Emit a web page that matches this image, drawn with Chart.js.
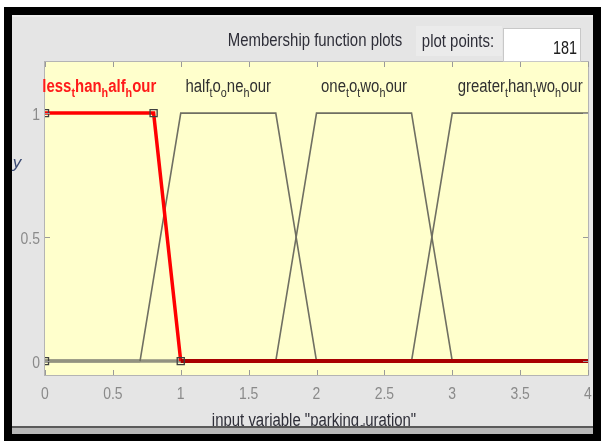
<!DOCTYPE html>
<html>
<head>
<meta charset="utf-8">
<script src="https://cdn.jsdelivr.net/npm/chart.js@4.4.1/dist/chart.umd.min.js"></script>
<style>
  html, body { margin: 0; padding: 0; background: #ffffff; }
  canvas { display: block; }
</style>
</head>
<body>
<canvas id="mfPlot" width="601" height="441"></canvas>
<script>
// Axis ticks
const xTickValues = [0, 0.5, 1, 1.5, 2, 2.5, 3, 3.5, 4];
const xTickLabels = ['0', '0.5', '1', '1.5', '2', '2.5', '3', '3.5', '4'];
const yTickValues = [0, 0.5, 1];
const yTickLabels = ['0', '0.5', '1'];

// Membership functions of the input "parking_duration" (hours)
const mfNames = ['less_than_half_hour', 'half_to_one_hour', 'one_to_two_hour', 'greater_than_two_hour'];
const lessX = [0, 0.8, 1, 4];
const lessY = [1, 1, 0, 0];
const halfX = [0, 0.7, 1, 1.7, 2, 4];
const halfY = [0, 0, 1, 1, 0, 0];
const oneX = [0, 1.7, 2, 2.7, 3, 4];
const oneY = [0, 0, 1, 1, 0, 0];
const greaterX = [0, 2.7, 3, 4];
const greaterY = [0, 0, 1, 1];

// Parameter handles of the selected function
const handleX = [0, 0, 0.8, 1];
const handleY = [0, 1, 1, 0];

const plotPoints = 181;
const inputName = 'input variable "parking_duration"';
const labelLevel = 1.087;

const FONT = '"Liberation Sans", Arial, Helvetica, sans-serif';
const pts = (xs, ys) => xs.map((x, i) => ({ x: x, y: ys[i] }));
const mfX = [lessX, halfX, oneX, greaterX];
const mfY = [lessY, halfY, oneY, greaterY];

// centre of the plateau (where membership is 1)
function plateauCentre(xs, ys) {
  const top = xs.filter((x, i) => ys[i] === 1);
  return (Math.min(...top) + Math.max(...top)) / 2;
}

// Draws text where "_c" puts the character c as a subscript
function drawTex(ctx, str, cx, by, size, weight, color, sx, align) {
  const parts = [];
  for (let i = 0; i < str.length; i++) {
    if (str[i] === '_' && i + 1 < str.length) { parts.push({ t: str[i + 1], sub: true }); i++; }
    else {
      const last = parts[parts.length - 1];
      if (last && !last.sub) last.t += str[i]; else parts.push({ t: str[i], sub: false });
    }
  }
  const fontFor = sub => `${weight} ${sub ? Math.round(size * 0.72) : size}px ${FONT}`;
  let total = 0;
  parts.forEach(p => { ctx.font = fontFor(p.sub); p.w = ctx.measureText(p.t).width; total += p.w; });
  ctx.save();
  ctx.translate(cx, by);
  ctx.scale(sx, 1);
  let x = align === 'right' ? -total : (align === 'left' ? 0 : -total / 2);
  ctx.fillStyle = color;
  ctx.textAlign = 'left';
  ctx.textBaseline = 'alphabetic';
  parts.forEach(p => {
    ctx.font = fontFor(p.sub);
    ctx.fillText(p.t, x, p.sub ? size * 0.33 : 0);
    x += p.w;
  });
  ctx.restore();
}

const windowPlugin = {
  id: 'mfWindow',
  beforeDraw(chart) {
    const ctx = chart.ctx;
    const a = chart.chartArea;
    ctx.save();
    ctx.fillStyle = '#ffffff';
    ctx.fillRect(0, 0, 601, 441);
    // black outer frame
    ctx.fillStyle = '#000000';
    ctx.fillRect(4, 7, 597, 434);
    // figure panel
    ctx.fillStyle = '#e5e5e5';
    ctx.fillRect(12, 15, 581, 420);
    ctx.fillStyle = '#eeeeee';
    ctx.fillRect(12, 15, 581, 2);
    // "plot points" panel
    ctx.fillStyle = '#ebebeb';
    ctx.fillRect(416, 26, 86, 30);
    // axes background
    ctx.fillStyle = '#ffffcc';
    ctx.fillRect(a.left, a.top, a.right - a.left, a.bottom - a.top);
    ctx.restore();
  },
  afterDatasetsDraw(chart) {
    const ctx = chart.ctx;
    const a = chart.chartArea;
    const xs = chart.scales.x, ys = chart.scales.y;
    ctx.save();
    // axes box
    ctx.strokeStyle = '#b4b4b4';
    ctx.lineWidth = 1;
    ctx.strokeRect(a.left - 0.5, a.top - 0.5, a.right - a.left + 1, a.bottom - a.top + 1);
    // inward tick marks
    ctx.strokeStyle = '#9a9a9a';
    ctx.beginPath();
    xTickValues.forEach(v => {
      const px = Math.round(xs.getPixelForValue(v)) + 0.5;
      ctx.moveTo(px, a.bottom); ctx.lineTo(px, a.bottom - 5);
      ctx.moveTo(px, a.top); ctx.lineTo(px, a.top + 5);
    });
    yTickValues.forEach(v => {
      const py = Math.round(ys.getPixelForValue(v)) + 0.5;
      ctx.moveTo(a.left, py); ctx.lineTo(a.left + 5, py);
      ctx.moveTo(a.right, py); ctx.lineTo(a.right - 5, py);
    });
    ctx.stroke();
    ctx.restore();

    // tick labels
    xTickValues.forEach((v, i) => {
      drawTex(ctx, xTickLabels[i], xs.getPixelForValue(v), a.bottom + 24, 17, 'normal', '#8a8a8a', 0.82, 'center');
    });
    yTickValues.forEach((v, i) => {
      drawTex(ctx, yTickLabels[i], a.left - 5, ys.getPixelForValue(v) + 6.5, 17, 'normal', '#8a8a8a', 0.82, 'right');
    });

    // function names above each plateau
    mfNames.forEach((name, k) => {
      const cx = xs.getPixelForValue(plateauCentre(mfX[k], mfY[k]));
      const by = ys.getPixelForValue(labelLevel);
      if (k === 0) drawTex(ctx, name, cx, by, 18, 'bold', '#ff1a1a', 0.83, 'center');
      else drawTex(ctx, name, cx, by, 18, 'normal', '#303030', 0.83, 'center');
    });

    // header texts and plot points box
    drawTex(ctx, 'Membership function plots', 315, 46, 18, 'normal', '#2e2e38', 0.83, 'center');
    drawTex(ctx, 'plot points:', 458, 47, 18, 'normal', '#2e2e38', 0.83, 'center');
    ctx.save();
    ctx.fillStyle = '#ffffff';
    ctx.fillRect(503, 28, 78, 34);
    ctx.strokeStyle = '#c8c8c8';
    ctx.strokeRect(503.5, 28.5, 77, 33);
    ctx.restore();
    drawTex(ctx, String(plotPoints), 577, 54, 18, 'normal', '#202020', 0.8, 'right');

    // clipped y-axis label
    ctx.save();
    ctx.fillStyle = '#3b4a72';
    ctx.font = `italic 17px ${FONT}`;
    ctx.textAlign = 'center';
    ctx.fillText('y', 17, 168);
    ctx.restore();

    // x-axis name, cut by the panel edge below
    drawTex(ctx, inputName, 314, 426, 18, 'normal', '#2e2e38', 0.83, 'center');
    ctx.save();
    ctx.fillStyle = '#5a5a5a';
    ctx.fillRect(12, 426, 581, 2);
    ctx.fillStyle = '#b8b8b8';
    ctx.fillRect(12, 428, 581, 6);
    ctx.fillStyle = '#000000';
    ctx.fillRect(4, 434, 597, 7);
    ctx.restore();
  }
};

const greySeg = {
  borderColor: c => (c.p0.parsed.y === 0 && c.p1.parsed.y === 0) ? '#929280' : '#6f6f62',
  borderWidth: c => (c.p0.parsed.y === 0 && c.p1.parsed.y === 0) ? 3 : 1.6
};

const datasets = [
  {
    label: mfNames[0], data: pts(lessX, lessY), order: 1,
    borderColor: '#ff0000', borderWidth: 3.5,
    segment: {
      borderColor: c => (c.p0.parsed.y === 0 && c.p1.parsed.y === 0) ? '#a80000' : '#ff0000',
      borderWidth: c => (c.p0.parsed.y === 0 && c.p1.parsed.y === 0) ? 4 : 3.5
    }
  },
  { label: mfNames[1], data: pts(halfX, halfY), order: 2, borderColor: '#6f6f62', borderWidth: 1.6, segment: greySeg },
  { label: mfNames[2], data: pts(oneX, oneY), order: 2, borderColor: '#6f6f62', borderWidth: 1.6, segment: greySeg },
  { label: mfNames[3], data: pts(greaterX, greaterY), order: 2, borderColor: '#6f6f62', borderWidth: 1.6, segment: greySeg },
  {
    label: 'handles', data: pts(handleX, handleY), order: 0, showLine: false,
    pointStyle: 'rect', pointRadius: 5, pointBorderColor: '#404040', pointBorderWidth: 1.3,
    pointBackgroundColor: 'rgba(0,0,0,0)'
  }
];

new Chart(document.getElementById('mfPlot').getContext('2d'), {
  type: 'line',
  data: { datasets: datasets },
  options: {
    responsive: false,
    animation: false,
    devicePixelRatio: 1,
    layout: { padding: { left: 45, top: 62, right: 13, bottom: 66 } },
    scales: {
      x: { type: 'linear', min: 0, max: 4, display: false },
      y: { type: 'linear', min: -0.056, max: 1.206, display: false }
    },
    elements: { point: { radius: 0, hoverRadius: 0 }, line: { tension: 0, fill: false } },
    plugins: { legend: { display: false }, tooltip: { enabled: false } },
    events: []
  },
  plugins: [windowPlugin]
});
</script>
</body>
</html>
